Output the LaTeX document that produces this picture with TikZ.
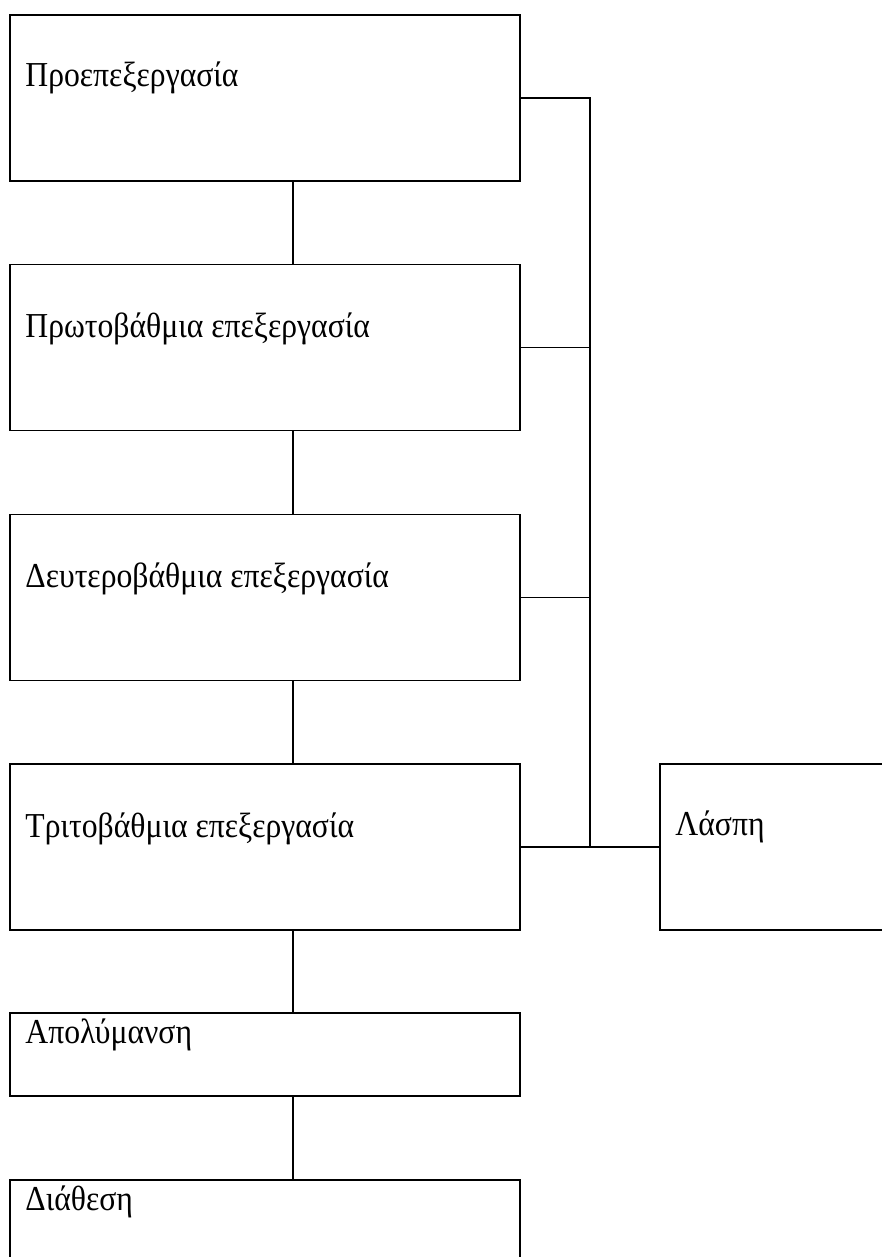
\documentclass[tikz,border=0pt]{standalone}
\usepackage{fontspec}
\setmainfont{Liberation Serif}
\newfontfamily\grkfont[FakeStretch=0.905]{Liberation Serif}
\begin{document}
\begin{tikzpicture}[x=0.5pt,y=-0.5pt,
  box/.style={draw=black,line width=0.8pt,rectangle,inner sep=0pt,outer sep=0pt,minimum width=255pt},
  bigbox/.style={box,minimum height=83pt},
  smallbox/.style={box,minimum height=41.5pt},
  lbl/.style={anchor=base west,inner sep=0pt,font=\grkfont\fontsize{17.5pt}{21pt}\selectfont},
  conn/.style={draw=black,line width=0.8pt}]
\useasboundingbox (0,0) rectangle (882,1257);
\fill[white] (0,0) rectangle (882,1257);
\clip (0,0) rectangle (882,1257);
\node[bigbox] (b1) at (265,98) {};
\node[bigbox] (b2) at (265,347.5) {};
\node[bigbox] (b3) at (265,597.5) {};
\node[bigbox] (b4) at (265,847) {};
\node[smallbox] (b5) at (265,1054.5) {};
\node[smallbox] (b6) at (265,1221.5) {};
\node[box,minimum width=120pt,minimum height=83pt] (sl) at (780,847) {};
\node[lbl] (t1) at (25,87) {Προεπεξεργασία};
\node[lbl] (t2) at (25,337) {Πρωτοβάθμια επεξεργασία};
\node[lbl] (t3) at (25,587) {Δευτεροβάθμια επεξεργασία};
\node[lbl] (t4) at (25,837) {Τριτοβάθμια επεξεργασία};
\node[lbl] (t5) at (25,1043) {Απολύμανση};
\node[lbl] (t6) at (25,1210) {Διάθεση};
\node[lbl] (t7) at (675,835) {Λάσπη};
\coordinate (vx) at (293,0);
\coordinate (bus) at (590,0);
\draw[conn] (b1.south -| vx) -- (b2.north -| vx);
\draw[conn] (b2.south -| vx) -- (b3.north -| vx);
\draw[conn] (b3.south -| vx) -- (b4.north -| vx);
\draw[conn] (b4.south -| vx) -- (b5.north -| vx);
\draw[conn] (b5.south -| vx) -- (b6.north -| vx);
\draw[conn] (b1.east) -- (b1.east -| bus) -- (b4.east -| bus);
\draw[conn] (b2.east) -- (b2.east -| bus);
\draw[conn] (b3.east) -- (b3.east -| bus);
\draw[conn] (b4.east) -- (sl.west);
\end{tikzpicture}
\end{document}
